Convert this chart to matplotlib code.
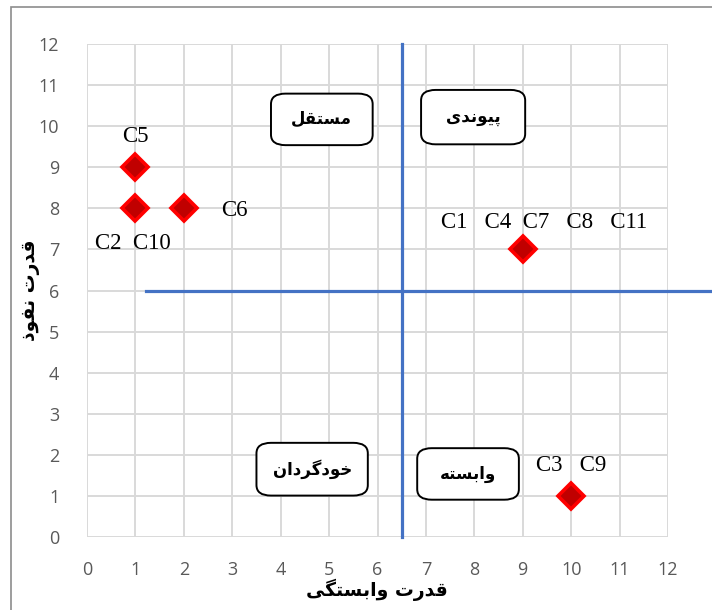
import matplotlib
matplotlib.use("Agg")
import matplotlib.pyplot as plt
from matplotlib.patches import Rectangle, FancyBboxPatch

# DATA
dependence = [1, 1, 2, 9, 10]          # x: قدرت وابستگی
influence = [9, 8, 8, 7, 1]            # y: قدرت نفوذ
point_labels = ["C5", "C2  C10", "C6", "C1   C4  C7   C8   C11", "C3   C9"]
label_offsets = [(0, 0.75), (-0.05, -0.85), (1.05, -0.05), (0.45, 0.65), (0.0, 0.75)]
quadrant_names = ["مستقل", "پیوندی", "خودگردان", "وابسته"]
quadrant_boxes = [(3.8, 9.5, 2.1, 1.33), (6.9, 9.52, 2.15, 1.4), (3.5, 0.97, 2.3, 1.36), (6.82, 0.87, 2.1, 1.33)]
x_split, y_split = 6.5, 6
ticks = list(range(0, 13))
x_title = "قدرت وابستگی"
y_title = "قدرت نفوذ"

# ARABIC / PERSIAN SHAPING (matplotlib has no text shaping)
forms = {
    'ا': ('\uFE8D', '\uFE8E', None, None), 'ب': ('\uFE8F', '\uFE90', '\uFE91', '\uFE92'),
    'پ': ('\uFB56', '\uFB57', '\uFB58', '\uFB59'), 'ت': ('\uFE95', '\uFE96', '\uFE97', '\uFE98'),
    'خ': ('\uFEA5', '\uFEA6', '\uFEA7', '\uFEA8'), 'د': ('\uFEA9', '\uFEAA', None, None),
    'ذ': ('\uFEAB', '\uFEAC', None, None), 'ر': ('\uFEAD', '\uFEAE', None, None),
    'س': ('\uFEB1', '\uFEB2', '\uFEB3', '\uFEB4'), 'ف': ('\uFED1', '\uFED2', '\uFED3', '\uFED4'),
    'ق': ('\uFED5', '\uFED6', '\uFED7', '\uFED8'), 'گ': ('\uFB92', '\uFB93', '\uFB94', '\uFB95'),
    'ل': ('\uFEDD', '\uFEDE', '\uFEDF', '\uFEE0'), 'م': ('\uFEE1', '\uFEE2', '\uFEE3', '\uFEE4'),
    'ن': ('\uFEE5', '\uFEE6', '\uFEE7', '\uFEE8'), 'ه': ('\uFEE9', '\uFEEA', '\uFEEB', '\uFEEC'),
    'و': ('\uFEED', '\uFEEE', None, None), 'ی': ('\uFBFC', '\uFBFD', '\uFBFE', '\uFBFF'),
}


def shape(text):
    out = []
    for i, ch in enumerate(text):
        if ch not in forms:
            out.append(ch)
            continue
        prev = text[i - 1] if i > 0 else ' '
        nxt = text[i + 1] if i + 1 < len(text) else ' '
        joins_prev = prev in forms and forms[prev][2] is not None
        joins_next = nxt in forms and forms[ch][2] is not None
        iso, fin, ini, med = forms[ch]
        if joins_prev and joins_next:
            out.append(med)
        elif joins_prev:
            out.append(fin)
        elif joins_next:
            out.append(ini)
        else:
            out.append(iso)
    return ''.join(reversed(out))


# FIGURE
fig = plt.figure(figsize=(7.12, 6.10), dpi=100)
ax = fig.add_axes([87 / 712, 73 / 610, 581 / 712, 493 / 610])

# outer chart frame
fig.patches.append(Rectangle((11 / 712, -0.1), 1.2, 1 - 7 / 610 + 0.1, transform=fig.transFigure,
                             fill=False, edgecolor='#8c8c8c', lw=1.2))

ax.set_xlim(0, 12)
ax.set_ylim(0, 12)
ax.set_xticks(ticks)
ax.set_yticks(ticks)
ax.grid(True, color='#d9d9d9', lw=1.4)
ax.set_axisbelow(True)
for s in ax.spines.values():
    s.set_visible(False)
ax.tick_params(length=0, labelsize=13, labelcolor='#595959')
ax.tick_params(axis='x', pad=17)
ax.tick_params(axis='y', pad=20)
for lab in ax.get_xticklabels() + ax.get_yticklabels():
    lab.set_family('Open Sans')

# quadrant split lines
ax.plot([x_split, x_split], [0, 12], color='#4472C4', lw=2.3, clip_on=False, zorder=3)
ax.plot([1.22, 12.95], [y_split, y_split], color='#4472C4', lw=2.3, clip_on=False, zorder=3)

# points
ax.plot(dependence, influence, 'D', ms=13.5, mfc='#C00000', mec='#FF0000', mew=2.6, zorder=4)
for x, y, lab, (dx, dy) in zip(dependence, influence, point_labels, label_offsets):
    ax.text(x + dx, y + dy, lab, ha='center', va='center', fontsize=16.5, family='Liberation Serif', zorder=5)

# quadrant name boxes
for name, (bx, by, bw, bh) in zip(quadrant_names, quadrant_boxes):
    box = FancyBboxPatch((bx + 0.12, by + 0.14), bw - 0.24, bh - 0.28,
                         boxstyle='round,pad=0.12,rounding_size=0.3', mutation_aspect=0.85,
                         facecolor='white', edgecolor='black', lw=1.4, zorder=5)
    ax.add_patch(box)
    ax.text(bx + bw / 2, by + bh / 2, shape(name), ha='center', va='center',
            fontsize=12, fontweight='bold', family='DejaVu Sans', zorder=6)

# axis titles
fig.text(377 / 712, 1 - 590 / 610, shape(x_title), ha='center', va='center', fontsize=13.5, fontweight='bold')
fig.text(30 / 712, 1 - 290 / 610, shape(y_title), ha='center', va='center', fontsize=13.5, fontweight='bold',
         rotation=90)

fig.savefig('out.png', dpi=100)
